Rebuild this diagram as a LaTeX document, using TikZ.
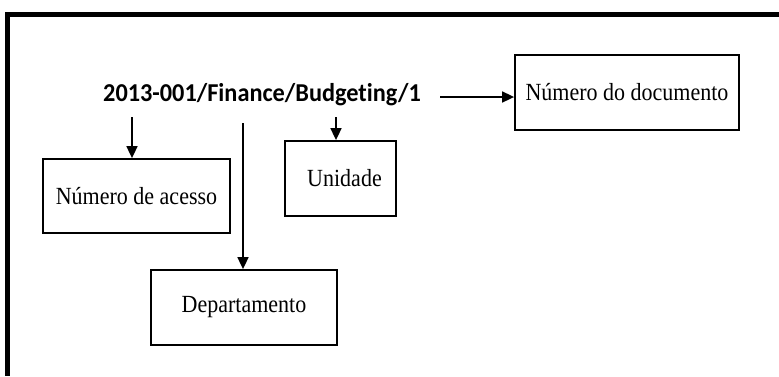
\documentclass[tikz,border=0pt]{standalone}
\usepackage{fontspec}
\setmainfont{Liberation Serif}
\newfontfamily\titlefont[Ligatures=NoCommon]{Carlito}
\usetikzlibrary{arrows.meta}
% taller text, as set in the boxes
\newcommand{\tall}[2][1.12]{\scalebox{1}[#1]{#2}}
\begin{document}
\begin{tikzpicture}[x=1pt,y=-1pt,
  box/.style={draw, line width=1.8pt, inner sep=0pt, align=center,
              font=\fontsize{22}{24}\selectfont},
  link/.style={line width=1.7pt, -{Triangle[length=12pt,width=11pt]}}]
  \useasboundingbox (0,0) rectangle (779,376);
  % frame: top and left edges only
  \draw[line width=5pt] (779,14) -- (7.5,14) -- (7.5,376);

  % identifier
  \node[font=\titlefont\bfseries\fontsize{24.3}{28}\selectfont, inner sep=0pt]
    (id) at (262,95) {\tall[1.06]{2013-001/Finance/Budgeting/1}};

  % component boxes
  \node[box, minimum width=224pt, minimum height=75pt] (doc)   at (627,92.5) {\tall{Número do documento}};
  \node[box, minimum width=187pt, minimum height=74pt] (acc)   at (136.5,196) {\tall{Número de acesso}};
  \node[box, minimum width=111pt, minimum height=75pt] (unit)  at (340.5,178.5) {\hspace*{8pt}\tall{Unidade}};
  \node[box, minimum width=186pt, minimum height=75pt] (dept)  at (244,307.5) {\tall{Departamento}};

  % connector origins below / beside the identifier
  \coordinate (sA) at (132,117);
  \coordinate (sD) at (243,123);
  \coordinate (sU) at (336,117);
  \coordinate (sR) at (440,97);

  \draw[link] (sA) -- (sA |- acc.north);
  \draw[link] (sD) -- (sD |- dept.north);
  \draw[link] (sU) -- (sU |- unit.north);
  \draw[link] (sR) -- (sR -| doc.west);
\end{tikzpicture}
\end{document}
